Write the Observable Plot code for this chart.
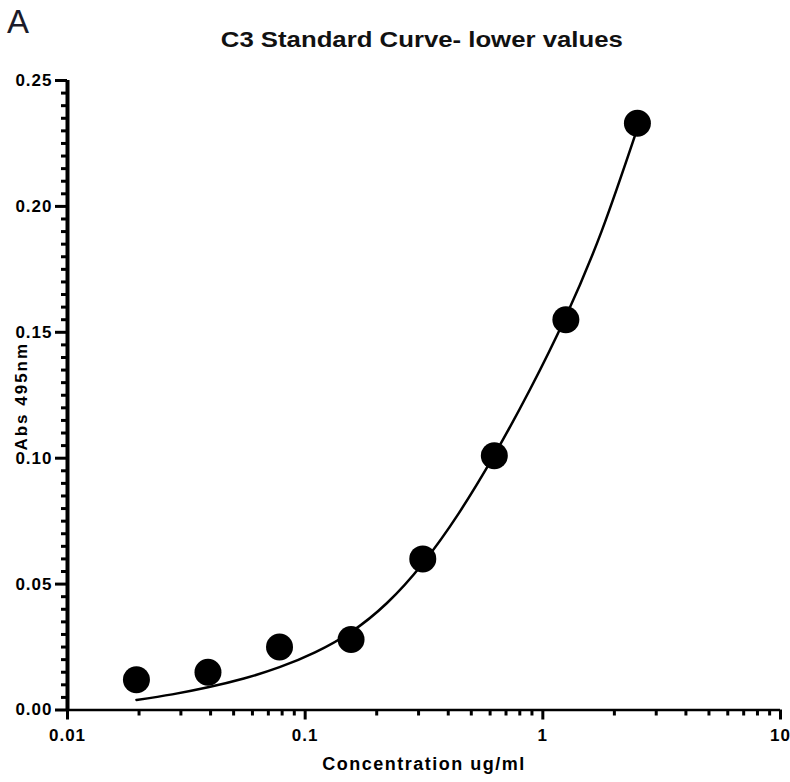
<!DOCTYPE html>
<html>
<head>
<meta charset="utf-8">
<script src="https://cdn.jsdelivr.net/npm/d3@7"></script>
<script src="https://cdn.jsdelivr.net/npm/@observablehq/plot@0.6"></script>
<style>
  html, body { margin: 0; padding: 0; background: #fff; }
  #wrap { position: relative; width: 790px; height: 782px; overflow: hidden; font-family: "Liberation Sans", Arial, sans-serif; }
  #header { position: relative; width: 790px; height: 60px; }
  #panel { position: absolute; left: 7px; top: 3px; font-size: 33px; color: #1b1b2a; font-weight: 400; }
  #title { position: absolute; left: 0; width: 721px; top: 27px; text-align: center; font-size: 22px; font-weight: 700; color: #111;
           transform: scaleX(1.17); transform-origin: 0 0; white-space: nowrap; }
  svg text { font-family: "Liberation Sans", Arial, sans-serif; }
</style>
</head>
<body>
<div id="wrap">
  <div id="header">
    <div id="panel">A</div>
    <div id="title"></div>
  </div>
  <div id="chart"></div>
</div>
<script>
// ---- data ----
const titleText = "C3 Standard Curve- lower values";
const panelLetter = "A";
const xLabel = "Concentration ug/ml";
const yLabel = "Abs 495nm";

// measured standards
const concentration = [0.0195, 0.039, 0.078, 0.156, 0.3125, 0.625, 1.25, 2.5];
const absorbance    = [0.012, 0.015, 0.025, 0.028, 0.060, 0.101, 0.155, 0.233];

// fitted curve
const curveX = [0.0195, 0.0276, 0.039, 0.0552, 0.078, 0.110, 0.156, 0.221, 0.3125, 0.442, 0.625, 0.884, 1.25, 1.768, 2.5];
const curveY = [0.0040, 0.0062, 0.0090, 0.0125, 0.0170, 0.0229, 0.0310, 0.0425, 0.0582, 0.0780, 0.1013, 0.1274, 0.1563, 0.1902, 0.2310];

// ticks
const xMajorTicks = [0.01, 0.1, 1, 10];
const xTickLabels = ["0.01", "0.1", "1", "10"];
const xMinorTicks = [0.02,0.03,0.04,0.05,0.06,0.07,0.08,0.09,
                     0.2,0.3,0.4,0.5,0.6,0.7,0.8,0.9,
                     2,3,4,5,6,7,8,9];
const yMajorTicks = [0, 0.05, 0.10, 0.15, 0.20, 0.25];
const yTickLabels = ["0.00", "0.05", "0.10", "0.15", "0.20", "0.25"];
const yMinorTicks = d3.range(0, 51).map(i => i * 0.005).filter(v => !yMajorTicks.some(m => Math.abs(m - v) < 1e-9));

// ---- build ----
document.getElementById("title").textContent = titleText;
document.getElementById("panel").textContent = panelLetter;

const points = concentration.map((x, i) => ({x, y: absorbance[i]}));
const curve = curveX.map((x, i) => ({x, y: curveY[i]}));

const tickFont = {fontSize: 17, fontWeight: "bold"};

const chart = Plot.plot({
  width: 790,
  height: 722,
  marginTop: 20,
  marginBottom: 72.5,
  marginLeft: 67,
  marginRight: 10,
  style: {background: "#fff", color: "#000", overflow: "visible"},
  x: {type: "log", domain: [0.01, 10]},
  y: {domain: [0, 0.25]},
  marks: [
    // minor ticks
    Plot.axisX({ticks: xMinorTicks, tickSize: 6, tickFormat: () => "", label: null, strokeWidth: 3}),
    Plot.axisY({ticks: yMinorTicks, tickSize: 6, tickFormat: () => "", label: null, strokeWidth: 3}),
    // major ticks with labels
    Plot.axisX({ticks: xMajorTicks, tickSize: 10, tickPadding: 9, label: null, strokeWidth: 3,
      tickFormat: d => xTickLabels[xMajorTicks.indexOf(d)], ...tickFont}),
    Plot.axisY({ticks: yMajorTicks, tickSize: 12, tickPadding: 3, label: null, strokeWidth: 3,
      tickFormat: d => yTickLabels[yMajorTicks.findIndex(m => Math.abs(m - d) < 1e-9)], ...tickFont}),
    // axis lines
    Plot.ruleY([0], {strokeWidth: 2.5}),
    Plot.ruleX([0.01], {strokeWidth: 4}),
    // fitted curve
    Plot.line(curve, {x: "x", y: "y", curve: "natural", stroke: "#000", strokeWidth: 2.5}),
    // data points
    Plot.dot(points, {x: "x", y: "y", r: 13.5, fill: "#000", stroke: "none"}),
    // axis titles
    Plot.text([xLabel], {text: d => d, frameAnchor: "bottom", dy: 60, fontSize: 18, fontWeight: "bold"}),
    Plot.text([yLabel], {text: d => d, frameAnchor: "left", textAnchor: "middle", dx: -46, dy: 1, rotate: -90, fontSize: 17, fontWeight: "bold"})
  ]
});
document.getElementById("chart").appendChild(chart);

// widen text slightly to match the reference's lettering
chart.querySelectorAll("text").forEach(t => {
  const s = t.textContent;
  if (s === xLabel) t.style.letterSpacing = "1.5px";
  else if (s === yLabel) t.style.letterSpacing = "2px";
  else t.style.letterSpacing = "1px";
});
</script>
</body>
</html>
